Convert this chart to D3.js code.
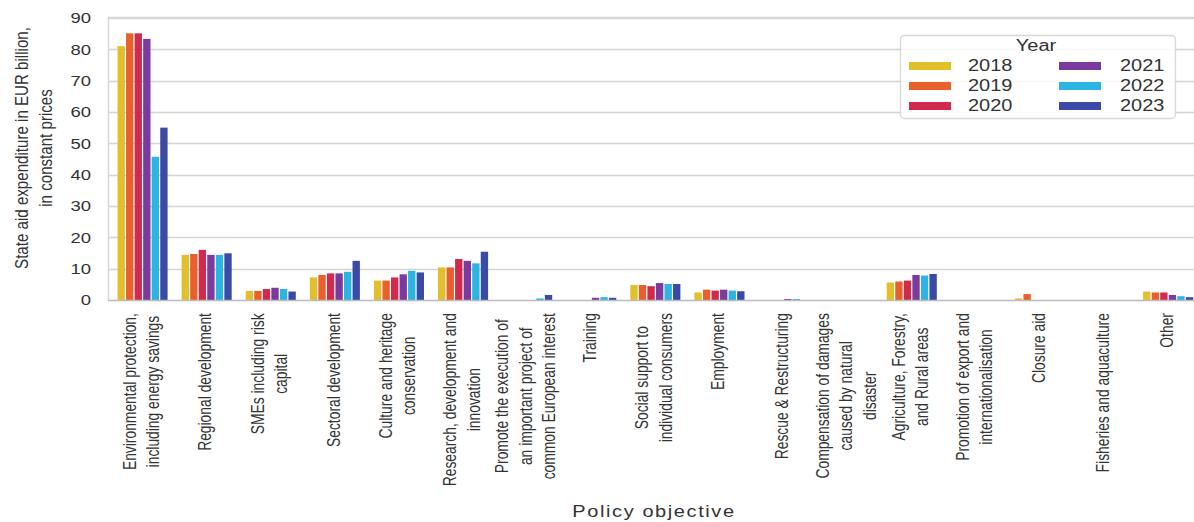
<!DOCTYPE html>
<html>
<head>
<meta charset="utf-8">
<script src="https://cdn.jsdelivr.net/npm/d3@7"></script>
<style>
  html, body { margin: 0; padding: 0; background: #fff; }
  svg { display: block; font-family: "Liberation Sans", Arial, sans-serif; }
</style>
</head>
<body>
<svg id="chart" width="1194" height="522"></svg>
<script>
// Policy objectives (line breaks as wrapped under the axis)
const categories = [
  "Environmental protection,\nincluding energy savings",
  "Regional development",
  "SMEs including risk\ncapital",
  "Sectoral development",
  "Culture and heritage\nconservation",
  "Research, development and\ninnovation",
  "Promote the execution of\nan important project of\ncommon European interest",
  "Training",
  "Social support to\nindividual consumers",
  "Employment",
  "Rescue & Restructuring",
  "Compensation of damages\ncaused by natural\ndisaster",
  "Agriculture, Forestry,\nand Rural areas",
  "Promotion of export and\ninternationalisation",
  "Closure aid",
  "Fisheries and aquaculture",
  "Other"
];

const years = ["2018", "2019", "2020", "2021", "2022", "2023"];

// State aid expenditure, EUR billion (constant prices), one array per year
const v2018 = [81.0, 14.4, 2.9, 7.2, 6.2, 10.4, 0.0, 0.0, 4.8, 2.4, 0.0, 0.0, 5.6, 0.0, 0.5, 0.0, 2.7];
const v2019 = [85.1, 14.7, 2.9, 8.0, 6.2, 10.4, 0.0, 0.0, 4.8, 3.3, 0.0, 0.0, 5.9, 0.0, 1.9, 0.0, 2.4];
const v2020 = [85.1, 16.0, 3.5, 8.5, 7.2, 13.1, 0.0, 0.0, 4.4, 3.0, 0.0, 0.0, 6.2, 0.0, 0.0, 0.0, 2.4];
const v2021 = [83.3, 14.4, 3.9, 8.5, 8.2, 12.5, 0.0, 0.7, 5.4, 3.3, 0.3, 0.0, 8.0, 0.0, 0.0, 0.0, 1.6];
const v2022 = [45.7, 14.4, 3.5, 9.0, 9.3, 11.7, 0.5, 0.9, 5.1, 3.0, 0.3, 0.0, 7.8, 0.0, 0.0, 0.0, 1.2];
const v2023 = [55.0, 14.9, 2.7, 12.5, 8.8, 15.4, 1.6, 0.7, 5.1, 2.8, 0.0, 0.0, 8.3, 0.0, 0.0, 0.0, 0.9];

const yTicks = [0, 10, 20, 30, 40, 50, 60, 70, 80, 90];
const yearColors = ["#e3c02b", "#e8602c", "#d02a4f", "#7b3a9d", "#2cb4e3", "#3a4aa6"];

const series = [v2018, v2019, v2020, v2021, v2022, v2023];
const rows = categories.map((c, i) => ({
  cat: c,
  vals: years.map((yr, j) => ({ year: yr, value: series[j][i] }))
}));

const svg = d3.select("#chart");
const plot = { left: 108, top: 16.7, right: 1200, bottom: 300 };
const squash = 0.78; // vertical text compression of the figure

const x0 = d3.scaleBand()
  .domain(categories)
  .range([110.5, 1200.2])
  .paddingInner(0.2)
  .paddingOuter(0.1);

const x1 = d3.scaleBand()
  .domain(years)
  .range([0, x0.bandwidth()])
  .padding(0);

const y = d3.scaleLinear().domain([0, 90.4]).range([plot.bottom, plot.top]);

const color = d3.scaleOrdinal().domain(years).range(yearColors);

// Gridlines
const grid = svg.append("g").attr("class", "grid");
grid.selectAll("line")
  .data(yTicks.filter(t => t > 0))
  .join("line")
  .attr("x1", plot.left)
  .attr("x2", plot.right)
  .attr("y1", d => Math.round(y(d)) + 0.5)
  .attr("y2", d => Math.round(y(d)) + 0.5)
  .attr("stroke", "#d3d3d3")
  .attr("stroke-width", 1.5);

// Frame (top and left edges)
svg.append("path")
  .attr("d", `M${plot.right},${Math.round(plot.top) + 0.5}H${plot.left + 0.5}V${plot.bottom}`)
  .attr("fill", "none")
  .attr("stroke", "#d6d6d6")
  .attr("stroke-width", 1.5);

// Bars
const groups = svg.append("g")
  .selectAll("g")
  .data(rows)
  .join("g")
  .attr("transform", d => `translate(${x0(d.cat)},0)`);

groups.selectAll("rect")
  .data(d => d.vals)
  .join("rect")
  .attr("x", d => x1(d.year) + 0.6)
  .attr("width", x1.bandwidth() - 1.2)
  .attr("y", d => y(d.value))
  .attr("height", d => y(0) - y(d.value))
  .attr("fill", d => color(d.year));

// Baseline
svg.append("line")
  .attr("x1", plot.left).attr("x2", plot.right)
  .attr("y1", plot.bottom + 0.5).attr("y2", plot.bottom + 0.5)
  .attr("stroke", "#bcbcbc").attr("stroke-width", 1.6);

// Y axis tick labels
const yAxis = d3.axisLeft(y).tickValues(yTicks).tickSize(0).tickPadding(0);
const yg = svg.append("g").attr("transform", `translate(91,0)`).call(yAxis);
yg.select(".domain").remove();
yg.selectAll("text")
  .attr("x", 0).attr("dy", null)
  .attr("font-size", 18.5)
  .attr("fill", "#333")
  .attr("font-family", "Liberation Sans, Arial, sans-serif")
  .attr("dominant-baseline", "central")
  .attr("transform", `scale(1,${squash})`);

// X axis (ticks only; labels drawn below as wrapped, rotated text)
const xAxis = d3.axisBottom(x0).tickSize(0).tickFormat("");
const xg = svg.append("g").attr("transform", `translate(0,${plot.bottom})`).call(xAxis);
xg.select(".domain").remove();

const lineGap = 23.5;
const alongScale = 0.77;
const labelTop = 313;
const labelG = svg.append("g")
  .attr("font-size", 18)
  .attr("fill", "#333");

categories.forEach(cat => {
  const lines = cat.split("\n");
  const cx = x0(cat) + x0.bandwidth() / 2 - 2;
  const t = labelG.append("text").attr("text-anchor", "middle");
  const n = lines.length;
  lines.forEach((ln, k) => {
    t.append("tspan")
      .attr("x", 0)
      .attr("y", (k - (n - 1) / 2) * lineGap)
      .attr("dominant-baseline", "central")
      .text(ln);
  });
  const w = t.node().getBBox().width;
  t.attr("transform", `translate(${cx},${labelTop + w * alongScale / 2}) rotate(-90) scale(${alongScale},1)`);
});

// Y axis title
const yTitle = svg.append("text")
  .attr("font-size", 18)
  .attr("fill", "#333")
  .attr("text-anchor", "middle")
  .attr("transform", `translate(34,148) rotate(-90) scale(0.84,1)`);
["State aid expenditure in EUR billion,", "in constant prices"].forEach((ln, k) => {
  yTitle.append("tspan").attr("x", 0).attr("y", (k - 0.5) * 24.5)
    .attr("dominant-baseline", "central").text(ln);
});

// X axis title
svg.append("text")
  .attr("font-size", 20)
  .attr("letter-spacing", 1.6)
  .attr("fill", "#333")
  .attr("text-anchor", "middle")
  .attr("dominant-baseline", "central")
  .attr("transform", `translate(654,512) scale(1,${squash})`)
  .text("Policy objective");

// Legend
const lg = svg.append("g");
lg.append("rect")
  .attr("x", 900.5).attr("y", 35.5).attr("width", 275).attr("height", 83)
  .attr("rx", 4).attr("fill", "#fff").attr("fill-opacity", 0.85)
  .attr("stroke", "#d8d8d8").attr("stroke-width", 1.3);
lg.append("text")
  .attr("font-size", 20).attr("fill", "#333")
  .attr("text-anchor", "middle").attr("dominant-baseline", "central")
  .attr("transform", `translate(1036,46) scale(1,${squash})`)
  .text("Year");
years.forEach((yr, i) => {
  const col = Math.floor(i / 3), row = i % 3;
  const px = col === 0 ? 909 : 1059;
  const tx = col === 0 ? 968 : 1120;
  const cy = 66 + row * 20;
  lg.append("rect")
    .attr("x", px).attr("y", cy - 4).attr("width", 42).attr("height", 8)
    .attr("fill", color(yr));
  lg.append("text")
    .attr("font-size", 20).attr("fill", "#333")
    .attr("dominant-baseline", "central")
    .attr("transform", `translate(${tx},${cy}) scale(1,${squash})`)
    .text(yr);
});
</script>
</body>
</html>
